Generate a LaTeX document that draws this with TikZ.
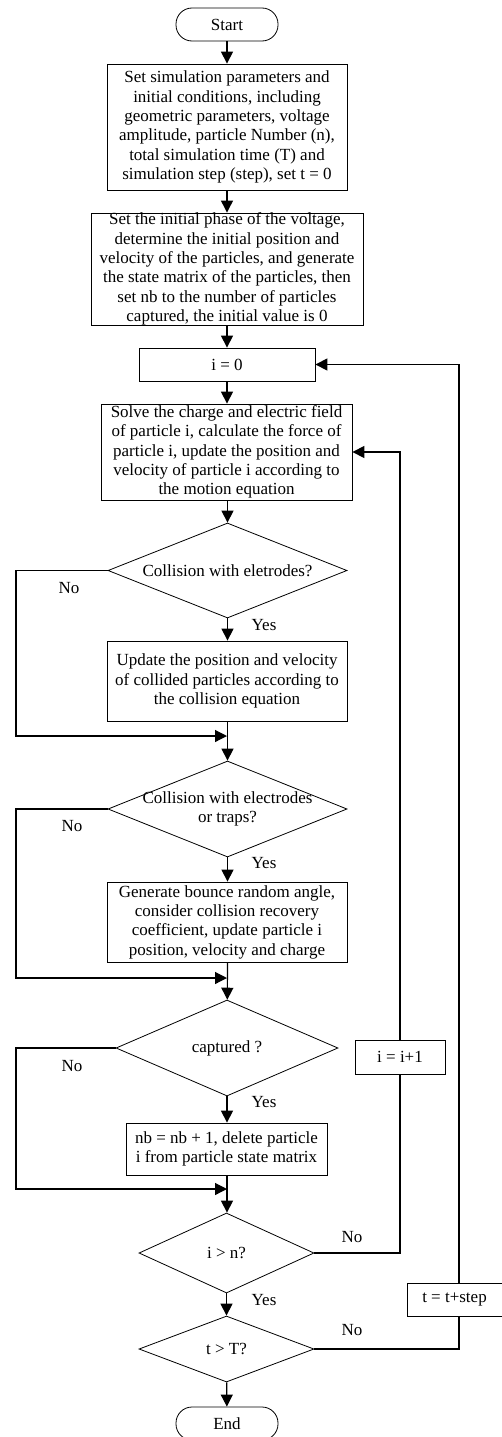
\documentclass[tikz,border=0pt]{standalone}
\usepackage{fontspec}
\setmainfont{Liberation Serif}
\usetikzlibrary{shapes.geometric,arrows.meta}
\begin{document}
\begin{tikzpicture}[x=1pt, y=-1pt,
  every node/.style={font=\fontsize{17}{19.3}\selectfont},
  term/.style={draw, line width=0.8pt, rounded corners=16pt, minimum width=102pt, minimum height=33pt, inner sep=0pt},
  proc/.style={draw, line width=0.8pt, align=center, inner sep=0pt},
  dec/.style={draw, line width=0.8pt, shape=diamond, inner sep=0pt},
  flow/.style={line width=1.2pt, -{Triangle[length=12pt,width=12pt]}},
  link/.style={line width=1.2pt}]
\useasboundingbox (0,0) rectangle (502,1437);
% main column
\node[term] (start) at (227,24.5) {Start};
\node[proc, minimum width=240pt, minimum height=126pt] (set) at (227,127) {Set simulation parameters and\\ initial conditions, including\\ geometric parameters, voltage\\ amplitude, particle Number (n),\\ total simulation time (T) and\\ simulation step (step), set t = 0};
\node[proc, minimum width=272pt, minimum height=112pt] (init) at (227,269) {Set the initial phase of the voltage,\\ determine the initial position and\\ velocity of the particles, and generate\\ the state matrix of the particles, then\\ set nb to the number of particles\\ captured, the initial value is 0};
\node[proc, minimum width=176pt, minimum height=33pt] (izero) at (227,364.5) {i = 0};
\node[proc, minimum width=251pt, minimum height=96pt] (solve) at (226.5,452) {Solve the charge and electric field\\ of particle i, calculate the force of\\ particle i, update the position and\\ velocity of particle i according to\\ the motion equation};
\node[dec, minimum width=239pt, minimum height=95pt, label={center:Collision with eletrodes?}] (coll1) at (227.5,570.5) {};
\node[proc, minimum width=240pt, minimum height=80pt] (update) at (227,681) {Update the position and velocity\\ of collided particles according to\\ the collision equation};
\node[dec, minimum width=239pt, minimum height=96pt, label={[align=center]center:{Collision with electrodes\\ or traps?}}] (coll2) at (227.5,809) {};
\node[proc, minimum width=240pt, minimum height=80pt] (gen) at (227,922) {Generate bounce random angle,\\ consider collision recovery\\ coefficient, update particle i\\ position, velocity and charge};
\node[dec, minimum width=222pt, minimum height=96pt, label={center:captured ?}] (capt) at (227,1048) {};
\node[proc, minimum width=201pt, minimum height=52pt] (nb) at (226.5,1149) {nb = nb + 1, delete particle\\ i from particle state matrix};
\node[dec, minimum width=175pt, minimum height=80pt, label={center:i > n?}] (ign) at (226.5,1253) {};
\node[dec, minimum width=175pt, minimum height=66pt, label={center:t > T?}] (tgT) at (226.5,1349) {};
\node[term] (end) at (227,1423.5) {End};
% loop boxes
\node[proc, minimum width=90pt, minimum height=34pt] (iinc) at (400,1057) {i = i+1};
\node[proc, minimum width=95pt, minimum height=33pt] (tstep) at (454.5,1299.5) {t = t+step};
% helper points
\coordinate (lx) at (16,0);
\coordinate (rx) at (459,0);
\coordinate (m1) at (227,736);
\coordinate (m2) at (227,978);
\coordinate (m3) at (227,1189);
% arrows down the column
\draw[flow] (start) -- (set);
\draw[flow] (set) -- (init);
\draw[flow] (init) -- (izero);
\draw[flow] (izero) -- (solve.north -| izero);
\draw[flow] (solve.south -| coll1) -- (coll1);
\draw[flow] (coll1) -- (update.north -| coll1);
\draw[flow] (update.south -| coll1) -- (coll2);
\draw[flow] (gen.south -| coll2) -- (capt);
\draw[flow] (coll2) -- (gen.north -| coll2);
\draw[flow] (capt) -- (nb.north -| capt);
\draw[flow] (nb.south -| capt) -- (ign.north -| capt);
\draw[flow] (ign) -- (tgT);
\draw[flow] (tgT) -- (end);
% No branches on the left
\draw[flow] (coll1.west) -| (lx |- m1) -- (m1);
\draw[flow] (coll2.west) -| (lx |- m2) -- (m2);
\draw[flow] (capt.west) -| (lx |- m3) -- (m3);
% loops on the right
\draw[link] (ign.east) -| (iinc.south);
\draw[flow] (iinc.north) |- (solve.east);
\draw[link] (tgT.east) -| (rx |- tstep.south);
\draw[flow] (rx |- tstep.north) |- (izero.east);
% branch labels
\node (no1) at (69,588) {No};
\node (yes1) at (264,625) {Yes};
\node (no2) at (72,826) {No};
\node (yes2) at (264,863) {Yes};
\node (no3) at (72,1066) {No};
\node (yes3) at (264,1102) {Yes};
\node (no4) at (352,1237) {No};
\node (yes4) at (264,1300) {Yes};
\node (no5) at (352,1330) {No};
\end{tikzpicture}
\end{document}
